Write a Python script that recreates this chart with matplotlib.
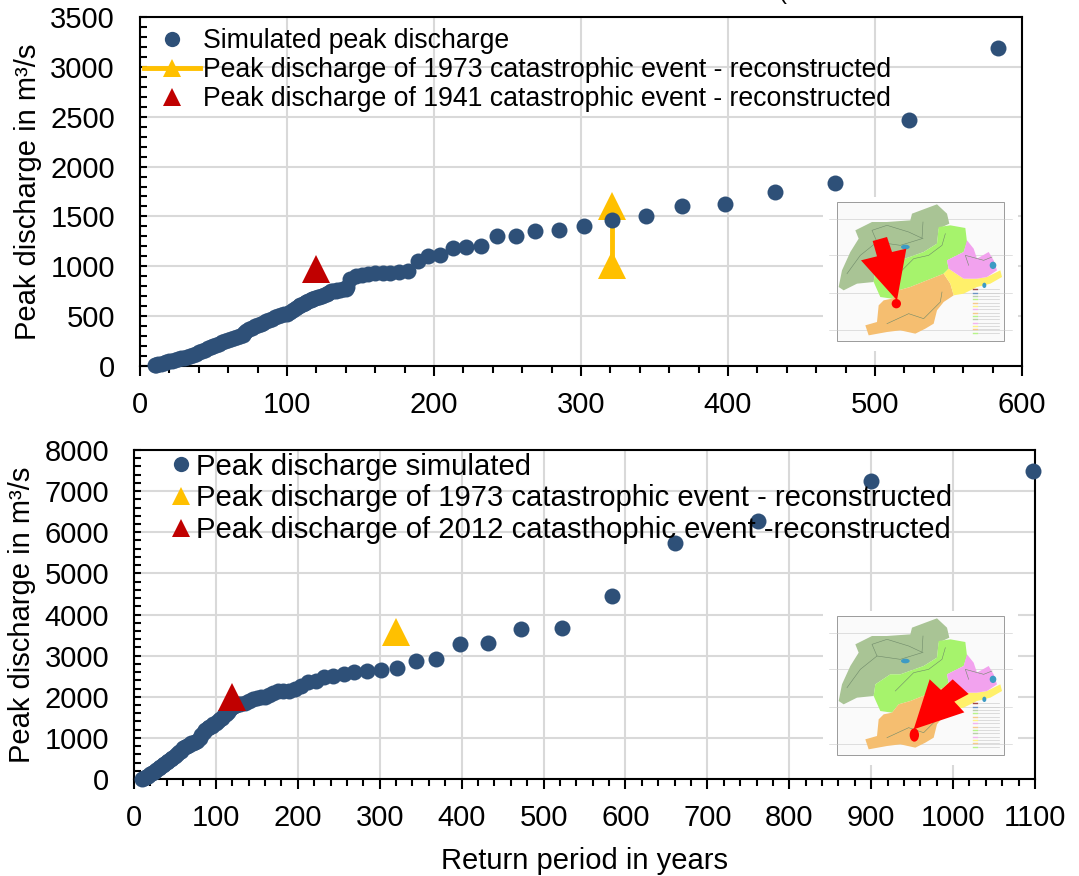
"""Peak discharge vs return period, two gauges with location maps."""

import matplotlib
matplotlib.use("Agg")
import matplotlib.pyplot as plt
from matplotlib.lines import Line2D
from matplotlib.patches import Ellipse, Polygon
from matplotlib.ticker import MultipleLocator

plt.rcParams["font.family"] = ["Liberation Sans", "DejaVu Sans"]

W, H = 1079, 876
BLUE = "#2E5078"
YELLOW = "#FFC000"
RED = "#C00000"
GRID = "#D9D9D9"

# upper gauge
top_T = [584, 523, 473, 432, 398, 369, 344, 321, 302, 285, 269, 256, 243, 232, 222, 213, 204,
         196, 189, 182, 176, 170, 165, 160, 155, 151, 147, 143, 141, 140, 138, 136, 134, 133,
         131, 130, 128, 127, 125, 124, 122, 121, 119, 118, 117, 116, 114, 113, 112, 111, 109,
         108, 106, 104, 102, 100, 98, 96, 94, 92, 90, 88, 86, 84, 82, 80, 78, 76, 74, 72, 71,
         70, 68, 66, 64, 62, 60, 58, 56, 54, 52, 50, 48, 46, 44, 42, 40, 38, 36, 34, 32, 30,
         28, 26, 24, 22, 20, 18, 16, 14, 12, 11, 10]
top_Q = [3190, 2470, 1840, 1740, 1620, 1600, 1500, 1460, 1400, 1360, 1350, 1305, 1305, 1200,
         1190, 1185, 1110, 1100, 1050, 955, 940, 935, 930, 930, 925, 915, 900, 870, 790, 770,
         768, 765, 758, 755, 752, 750, 730, 720, 708, 700, 695, 690, 680, 675, 668, 660, 648,
         640, 630, 620, 610, 600, 580, 560, 540, 525, 520, 515, 502, 490, 475, 460, 448, 435,
         422, 410, 398, 385, 368, 350, 330, 310, 300, 290, 280, 270, 260, 250, 238, 225, 215,
         205, 192, 180, 165, 150, 138, 125, 112, 100, 92, 85, 78, 70, 62, 55, 47, 40, 32, 25,
         18, 15, 10]
top_1973_T = [321, 321]
top_1973_Q = [1015, 1600]
top_1941_T = [120]
top_1941_Q = [975]

# lower gauge
low_T = [1097, 900, 762, 660, 583, 523, 473, 432, 398, 369, 344, 321, 302, 285, 269, 256, 243,
         232, 222, 213, 204, 196, 189, 182, 176, 170, 165, 160, 155, 150, 145, 140, 135, 130,
         127, 125, 122, 120, 117, 115, 112, 110, 107, 105, 102, 100, 97, 95, 92, 90, 87, 85,
         82, 80, 77, 75, 72, 70, 67, 65, 62, 60, 57, 55, 52, 50, 47, 45, 42, 40, 37, 35, 32,
         30, 27, 25, 22, 20, 17, 15, 12, 10]
low_Q = [7480, 7250, 6270, 5730, 4450, 3660, 3650, 3310, 3290, 2920, 2870, 2700, 2640, 2630,
         2590, 2560, 2500, 2490, 2380, 2370, 2270, 2180, 2150, 2140, 2130, 2080, 2050, 2000,
         1990, 1960, 1940, 1900, 1860, 1830, 1815, 1800, 1770, 1750, 1690, 1640, 1590, 1560,
         1495, 1450, 1400, 1370, 1330, 1300, 1260, 1230, 1190, 1150, 1060, 1000, 930, 900,
         880, 870, 835, 810, 775, 750, 690, 650, 600, 570, 520, 490, 440, 410, 370, 340, 290,
         260, 210, 180, 135, 110, 70, 50, 30, 10]
low_1973_T = [320]
low_1973_Q = [3570]
low_2012_T = [120]
low_2012_Q = [2000]

# map outlines, traced on the 500 x 418 map frame
map_zones = [
    ("#A9C495", [(5, 255), (15, 205), (40, 150), (65, 110), (55, 85), (105, 60), (150, 60),
                 (220, 55), (225, 35), (265, 20), (300, 7), (330, 35), (337, 65), (305, 80),
                 (300, 125), (260, 150), (190, 175), (160, 175), (115, 205), (110, 240),
                 (60, 245), (20, 265)]),
    ("#A6F36C", [(305, 75), (340, 70), (385, 78), (390, 120), (380, 150), (330, 175), (335, 200),
                 (320, 215), (270, 235), (220, 255), (185, 265), (165, 290), (130, 285),
                 (110, 240), (115, 205), (160, 175), (190, 175), (260, 150), (300, 125)]),
    ("#F5BE70", [(320, 215), (340, 245), (350, 280), (320, 300), (300, 325), (290, 365),
                 (265, 380), (235, 395), (190, 385), (150, 390), (95, 400), (85, 370),
                 (120, 360), (125, 310), (140, 295), (165, 290), (185, 265), (220, 255),
                 (270, 235)]),
    ("#FFF06A", [(320, 215), (335, 200), (380, 230), (420, 230), (450, 225), (490, 205),
                 (495, 225), (460, 245), (420, 255), (380, 275), (350, 280), (340, 245)]),
    ("#F2A2EE", [(330, 175), (380, 150), (390, 115), (410, 140), (420, 170), (455, 150),
                 (470, 175), (480, 205), (450, 225), (420, 230), (380, 230), (335, 200)]),
]
map_rivers = [
    [(30, 215), (70, 160), (120, 120), (190, 130), (255, 110), (258, 60)],
    [(120, 120), (105, 85), (150, 70), (215, 90), (258, 110)],
    [(175, 225), (230, 170), (275, 160), (315, 130), (325, 95)],
    [(150, 365), (215, 335), (260, 350), (310, 300), (315, 270)],
    [(395, 190), (385, 160), (440, 175), (465, 165)],
]
map_lakes = [(205, 135, 26, 14), (468, 190, 20, 22), (442, 250, 12, 16)]
map_legend_colors = ["#8B1A1A", "#4F81BD", "#A9C495", "#A6F36C", "#F5BE70", "#FFF06A",
                     "#F2A2EE", "#F5BE70", "#A6F36C", "#A9C495", "#F2A2EE", "#FFF06A",
                     "#F5BE70", "#A6F36C"]
arrow_top = [(107, 117), (150, 105), (165, 150), (208, 140), (180, 295), (72, 175), (120, 163)]
arrow_low = [(230, 340), (278, 190), (312, 222), (347, 190), (395, 234), (352, 257), (382, 289)]


def _pixel_axes(fig, left, top, right, bottom):
    return fig.add_axes([left / W, 1 - bottom / H, (right - left) / W, (bottom - top) / H])


def _style_axes(ax, xmax, ymax, ymajor, yminor, xmajor):
    ax.set_xlim(0, xmax)
    ax.set_ylim(0, ymax)
    ax.xaxis.set_major_locator(MultipleLocator(xmajor))
    ax.xaxis.set_minor_locator(MultipleLocator(20))
    ax.yaxis.set_major_locator(MultipleLocator(ymajor))
    ax.yaxis.set_minor_locator(MultipleLocator(yminor))
    ax.grid(True, which="major", color=GRID, linewidth=1.5, zorder=0)
    ax.set_axisbelow(True)
    ax.tick_params(axis="x", which="major", direction="out", length=7, width=1.5,
                   labelsize=21, pad=11)
    ax.tick_params(axis="x", which="minor", direction="out", length=5, width=1.5)
    ax.tick_params(axis="y", which="both", direction="in", length=5, width=1.5,
                   labelsize=21, pad=18)
    for spine in ax.spines.values():
        spine.set_linewidth(1.5)


def _draw_map(fig, left, top, arrow, dot):
    # white plate hides the grid behind the map
    ax = _pixel_axes(fig, left - 14, top - 5, left + 181, top + 149)
    ax.set_xlim(-42, 543)
    ax.set_ylim(447, -15)
    ax.axis("off")
    ax.add_patch(plt.Rectangle((-42, -15), 585, 462, color="white", zorder=0))
    ax.add_patch(plt.Rectangle((0, 0), 500, 418, facecolor="#FAFAFA", edgecolor="#9A9A9A",
                               linewidth=0.7, zorder=1))
    for y in (50, 160, 272, 385):
        ax.plot([-25, 525], [y, y], color="#C8C8C8", linewidth=0.4, zorder=1.5)
    for color, outline in map_zones:
        ax.add_patch(Polygon(outline, closed=True, facecolor=color, edgecolor="none", zorder=2))
    for river in map_rivers:
        xs, ys = zip(*river)
        ax.plot(xs, ys, color="#6F8A6A", linewidth=0.4, zorder=2.5)
    for x, y, w, h in map_lakes:
        ax.add_patch(Ellipse((x, y), w, h, facecolor="#3D9BC4", zorder=2.5))
    for i, color in enumerate(map_legend_colors):
        y = 262 + i * 10
        ax.plot([408, 420], [y, y], color=color, linewidth=1.0, alpha=0.8, zorder=3)
        ax.plot([424, 485], [y, y], color="#CFCFCF", linewidth=0.5, zorder=3)
    ax.add_patch(Polygon(arrow, closed=True, facecolor="#FF0000", edgecolor="none", zorder=4))
    ax.add_patch(Ellipse(dot[:2], dot[2], dot[3], facecolor="#FF0000", zorder=4))


def main():
    fig = plt.figure(figsize=(W / 100, H / 100), dpi=100, facecolor="white")

    # upper panel
    ax = _pixel_axes(fig, 140, 17, 1022, 366)
    _style_axes(ax, 600, 3500, 500, 100, 100)
    ax.plot(top_1973_T, top_1973_Q, color=YELLOW, linewidth=3.5, marker="^", markersize=20,
            markeredgewidth=0, zorder=3, clip_on=False)
    ax.plot(top_1941_T, top_1941_Q, linestyle="none", color=RED, marker="^", markersize=20,
            markeredgewidth=0, zorder=3, clip_on=False)
    ax.plot(top_T, top_Q, linestyle="none", color=BLUE, marker="o", markersize=11.5,
            markeredgewidth=0, zorder=4, clip_on=False)
    ax.set_ylabel("Peak discharge in m³/s", fontsize=21, labelpad=6)
    handles = [
        Line2D([], [], linestyle="none", color=BLUE, marker="o", markersize=11, markeredgewidth=0),
        Line2D([], [], color=YELLOW, linewidth=3.5, marker="^", markersize=13, markeredgewidth=0),
        Line2D([], [], linestyle="none", color=RED, marker="^", markersize=13, markeredgewidth=0),
    ]
    labels = ["Simulated peak discharge",
              "Peak discharge of 1973 catastrophic event - reconstructed",
              "Peak discharge of 1941 catastrophic event - reconstructed"]
    fig.legend(handles, labels, loc="upper left", bbox_to_anchor=(144 / W, 1 - 28 / H),
               frameon=False, fontsize=19.2, borderpad=0, borderaxespad=0, handlelength=2.1,
               handletextpad=0.11, labelspacing=0.12)
    _draw_map(fig, 837, 202, arrow_top, (178, 305, 28, 28))

    # lower panel
    ax = _pixel_axes(fig, 134, 450, 1035, 779)
    _style_axes(ax, 1100, 8000, 1000, 200, 100)
    ax.plot(low_T, low_Q, linestyle="none", color=BLUE, marker="o", markersize=11.5,
            markeredgewidth=0, zorder=3, clip_on=False)
    ax.plot(low_1973_T, low_1973_Q, linestyle="none", color=YELLOW, marker="^", markersize=20,
            markeredgewidth=0, zorder=4, clip_on=False)
    ax.plot(low_2012_T, low_2012_Q, linestyle="none", color=RED, marker="^", markersize=20,
            markeredgewidth=0, zorder=4, clip_on=False)
    ax.set_xlabel("Return period in years", fontsize=21, labelpad=11)
    ax.set_ylabel("Peak discharge in m³/s", fontsize=21, labelpad=6)
    handles = [
        Line2D([], [], linestyle="none", color=BLUE, marker="o", markersize=11, markeredgewidth=0),
        Line2D([], [], linestyle="none", color=YELLOW, marker="^", markersize=13, markeredgewidth=0),
        Line2D([], [], linestyle="none", color=RED, marker="^", markersize=13, markeredgewidth=0),
    ]
    labels = ["Peak discharge simulated",
              "Peak discharge of 1973 catastrophic event - reconstructed",
              "Peak discharge of 2012 catasthophic event -reconstructed"]
    fig.legend(handles, labels, loc="upper left", bbox_to_anchor=(170 / W, 1 - 452.5 / H),
               frameon=False, fontsize=21.1, borderpad=0, borderaxespad=0, handlelength=0.75,
               handletextpad=0.14, labelspacing=0.13)
    _draw_map(fig, 837, 616, arrow_low, (232, 357, 28, 40))

    # the title of the upper panel is cut off by the image edge
    fig.text(782 / W, 1 + 7 / H, "(", fontsize=17, ha="center", va="center")

    fig.savefig("out.png", dpi=100)
    plt.close(fig)


if __name__ == "__main__":
    main()
